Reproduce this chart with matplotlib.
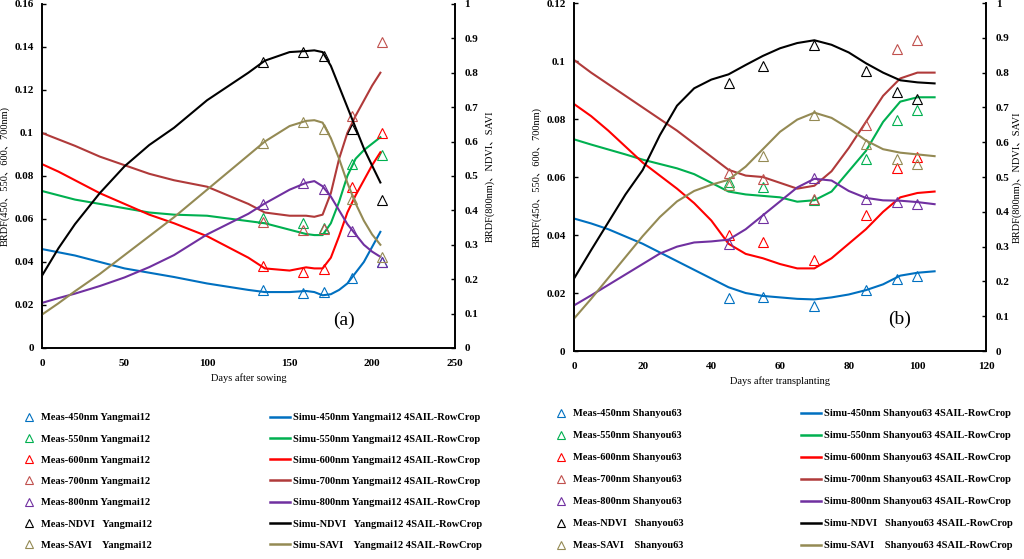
import numpy as np
import matplotlib
matplotlib.use("Agg")
import matplotlib.pyplot as plt
from matplotlib.lines import Line2D

plt.rcParams['font.family'] = ['Liberation Serif', 'Noto Sans CJK SC', 'DejaVu Serif']
plt.rcParams['font.weight'] = 'bold'

# ---------------- panel (a): wheat, Yangmai12 ----------------
a_meas_days = [134, 158, 171, 188, 206]
a_meas_450 = [0.0268, 0.0256, 0.0259, 0.0325, 0.0398]
a_meas_550 = [0.0604, 0.0581, 0.0560, 0.0855, 0.0898]
a_meas_600 = [0.0380, 0.0352, 0.0367, 0.0748, 0.0999]
a_meas_700 = [0.0585, 0.0550, 0.0553, 0.1077, 0.1422]
a_meas_800 = [0.419, 0.480, 0.461, 0.339, 0.249]
a_meas_ndvi = [0.832, 0.860, 0.849, 0.636, 0.429]
a_meas_savi = [0.595, 0.656, 0.636, 0.433, 0.264]

a_sim_days = [0, 10, 20, 35, 50, 65, 80, 100, 125, 135, 150, 160, 165, 170, 175, 180, 185, 190, 195, 200, 205]
a_sim_450 = [0.046, 0.0445, 0.043, 0.040, 0.037, 0.035, 0.033, 0.030, 0.027, 0.026, 0.026, 0.0265, 0.026, 0.0245, 0.025, 0.027, 0.030, 0.035, 0.040, 0.047, 0.054]
a_sim_550 = [0.073, 0.071, 0.069, 0.067, 0.065, 0.063, 0.062, 0.0615, 0.059, 0.058, 0.055, 0.053, 0.0525, 0.0525, 0.058, 0.068, 0.080, 0.088, 0.092, 0.095, 0.098]
a_sim_600 = [0.0855, 0.082, 0.078, 0.072, 0.067, 0.062, 0.058, 0.052, 0.042, 0.037, 0.036, 0.0375, 0.037, 0.037, 0.042, 0.052, 0.063, 0.071, 0.078, 0.085, 0.091]
a_sim_700 = [0.100, 0.097, 0.094, 0.089, 0.085, 0.081, 0.078, 0.075, 0.067, 0.063, 0.0615, 0.0615, 0.061, 0.062, 0.072, 0.088, 0.100, 0.108, 0.115, 0.122, 0.128]
a_sim_800 = [0.131, 0.145, 0.158, 0.180, 0.205, 0.235, 0.270, 0.330, 0.390, 0.420, 0.460, 0.480, 0.485, 0.470, 0.440, 0.400, 0.360, 0.330, 0.300, 0.280, 0.265]
a_sim_ndvi = [0.210, 0.290, 0.360, 0.450, 0.528, 0.590, 0.640, 0.720, 0.800, 0.835, 0.860, 0.863, 0.865, 0.860, 0.820, 0.760, 0.700, 0.640, 0.580, 0.530, 0.481]
a_sim_savi = [0.097, 0.130, 0.165, 0.215, 0.270, 0.325, 0.380, 0.460, 0.560, 0.600, 0.645, 0.660, 0.662, 0.655, 0.610, 0.550, 0.480, 0.420, 0.370, 0.330, 0.300]

# ---------------- panel (b): rice, Shanyou63 ----------------
b_meas_days = [45, 55, 70, 85, 94, 100]
b_meas_450 = [0.0183, 0.0187, 0.0155, 0.0210, 0.0250, 0.0260]
b_meas_550 = [0.0584, 0.0564, 0.0520, 0.0662, 0.0797, 0.0832]
b_meas_600 = [0.0400, 0.0377, 0.0313, 0.0469, 0.0632, 0.0670]
b_meas_700 = [0.0615, 0.0592, 0.0525, 0.0781, 0.1042, 0.1071]
b_meas_800 = [0.309, 0.381, 0.498, 0.437, 0.429, 0.422]
b_meas_ndvi = [0.770, 0.820, 0.880, 0.805, 0.743, 0.725]
b_meas_savi = [0.477, 0.561, 0.678, 0.594, 0.553, 0.537]

b_sim_days = [0, 5, 10, 15, 20, 25, 30, 35, 40, 45, 50, 55, 60, 65, 70, 75, 80, 85, 90, 95, 100, 105]
b_sim_450 = [0.0457, 0.044, 0.042, 0.0395, 0.037, 0.034, 0.031, 0.028, 0.025, 0.022, 0.020, 0.019, 0.0185, 0.018, 0.0178, 0.0185, 0.0195, 0.021, 0.023, 0.026, 0.027, 0.0275]
b_sim_550 = [0.073, 0.0712, 0.0695, 0.0678, 0.066, 0.0645, 0.063, 0.061, 0.058, 0.055, 0.054, 0.0535, 0.053, 0.0515, 0.052, 0.055, 0.062, 0.069, 0.079, 0.086, 0.0875, 0.0875]
b_sim_600 = [0.0852, 0.081, 0.076, 0.0705, 0.065, 0.0605, 0.056, 0.051, 0.045, 0.037, 0.0335, 0.032, 0.030, 0.0285, 0.0285, 0.032, 0.037, 0.042, 0.048, 0.053, 0.0545, 0.055]
b_sim_700 = [0.1004, 0.096, 0.092, 0.088, 0.084, 0.080, 0.076, 0.0715, 0.067, 0.0625, 0.0605, 0.060, 0.058, 0.056, 0.057, 0.062, 0.070, 0.079, 0.088, 0.094, 0.096, 0.096]
b_sim_800 = [0.131, 0.160, 0.190, 0.220, 0.250, 0.280, 0.300, 0.312, 0.315, 0.320, 0.350, 0.390, 0.430, 0.470, 0.495, 0.490, 0.460, 0.440, 0.433, 0.432, 0.428, 0.422]
b_sim_ndvi = [0.208, 0.290, 0.370, 0.450, 0.520, 0.620, 0.705, 0.755, 0.780, 0.795, 0.822, 0.848, 0.870, 0.885, 0.893, 0.880, 0.858, 0.827, 0.800, 0.778, 0.772, 0.769]
b_sim_savi = [0.093, 0.150, 0.210, 0.270, 0.330, 0.385, 0.430, 0.460, 0.478, 0.492, 0.530, 0.580, 0.630, 0.665, 0.685, 0.670, 0.640, 0.605, 0.580, 0.570, 0.565, 0.560]

colors = ['#0070C0', '#00B050', '#FF0000', '#B03A3A', '#7030A0', '#000000', '#948A54']
marker_colors = ['#0070C0', '#00B050', '#FF0000', '#C0504D', '#7030A0', '#000000', '#948A54']

fig = plt.figure(figsize=(10.24, 5.59), dpi=100)


def panel(rect, md, meas, sd, sim, xmax, xstep, ymax, ystep, xlabel, tag, tagpos, rpad):
    ax = fig.add_axes(rect)
    ax2 = ax.twinx()
    for i in range(7):
        target = ax if i < 4 else ax2
        target.plot(sd, sim[i], color=colors[i], lw=1.5)
        target.plot(md, meas[i], ls='none', marker='^', ms=6.5, mfc='none',
                    mec=marker_colors[i], mew=0.8)
    ax.set_xlim(0, xmax)
    ax.set_ylim(0, ymax)
    ax2.set_ylim(0, 1)
    ax.set_xticks(np.arange(0, xmax + 1, xstep))
    ax.set_yticks(np.arange(0, ymax + 1e-9, ystep))
    ax.set_yticklabels(['0'] + ['%g' % v for v in np.arange(ystep, ymax + 1e-9, ystep)])
    ax2.set_yticks(np.arange(0, 1.01, 0.1))
    ax2.set_yticklabels(['0'] + ['%g' % round(v, 1) for v in np.arange(0.1, 1.01, 0.1)])
    for a in (ax, ax2):
        a.spines['top'].set_visible(False)
        for s in a.spines.values():
            s.set_linewidth(1.2)
        a.tick_params(labelsize=8, direction='in', length=3, width=1)
    ax.tick_params(axis='x', length=0, pad=8)
    ax.tick_params(axis='y', pad=6)
    ax2.tick_params(axis='y', pad=7)
    ax.set_xlabel(xlabel, fontsize=7.5, labelpad=4)
    ax.set_ylabel('BRDF(450、550、600、700nm)', fontsize=7.5, labelpad=3)
    ax2.set_ylabel('BRDF(800nm)、NDVI、SAVI', fontsize=7.5, labelpad=rpad)
    ax.text(tagpos[0], tagpos[1], tag, transform=ax.transAxes, fontsize=14,
            fontweight='normal', ha='center', va='center')
    return ax


a_meas = [a_meas_450, a_meas_550, a_meas_600, a_meas_700, a_meas_800, a_meas_ndvi, a_meas_savi]
a_sim = [a_sim_450, a_sim_550, a_sim_600, a_sim_700, a_sim_800, a_sim_ndvi, a_sim_savi]
b_meas = [b_meas_450, b_meas_550, b_meas_600, b_meas_700, b_meas_800, b_meas_ndvi, b_meas_savi]
b_sim = [b_sim_450, b_sim_550, b_sim_600, b_sim_700, b_sim_800, b_sim_ndvi, b_sim_savi]

panel([0.041, 0.3775, 0.403, 0.6155], a_meas_days, a_meas, a_sim_days, a_sim,
      250, 50, 0.16, 0.02, 'Days after sowing', '(a)', (0.733, 0.081), 5)
panel([0.5605, 0.372, 0.4025, 0.6226], b_meas_days, b_meas, b_sim_days, b_sim,
      120, 20, 0.12, 0.02, 'Days after transplanting', '(b)', (0.79, 0.092), 2)

names = ['450nm ', '550nm ', '600nm ', '700nm ', '800nm ', 'NDVI   ', 'SAVI    ']


def legends(variety, mx, lx, top, spacing):
    mh = [Line2D([], [], ls='none', marker='^', ms=6, mfc='none', mec=marker_colors[i], mew=0.8)
          for i in range(7)]
    lh = [Line2D([], [], color=colors[i], lw=1.8) for i in range(7)]
    ml = ['Meas-' + n + variety for n in names]
    ll = ['Simu-' + n + variety + ' 4SAIL-RowCrop' for n in names]
    fig.legend(mh, ml, loc='upper left', bbox_to_anchor=(mx / 1024, 1 - top / 559),
               frameon=False, fontsize=7.5, handlelength=1.0, handletextpad=0.63,
               labelspacing=spacing, borderpad=0, borderaxespad=0)
    fig.legend(lh, ll, loc='upper left', bbox_to_anchor=(lx / 1024, 1 - top / 559),
               frameon=False, fontsize=7.5, handlelength=1.92, handletextpad=0.3,
               labelspacing=spacing, borderpad=0, borderaxespad=0)


legends('Yangmai12', 24, 270, 413, 1.15)
legends('Shanyou63', 556, 801, 409, 1.22)

fig.savefig('out.png', dpi=100)
